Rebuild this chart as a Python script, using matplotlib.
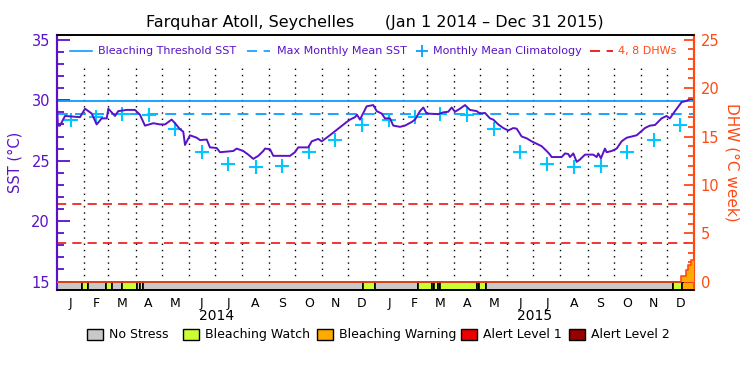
import matplotlib
matplotlib.use('Agg')
import matplotlib.pyplot as plt
from matplotlib.lines import Line2D
from matplotlib.patches import Rectangle
import numpy as np

# SST readings (day since Jan 1 2014, degC)
sst_days = [0, 1, 3.4, 9.2, 26.4, 32.1, 39.8, 45.5, 51.2, 57, 58.8, 66.5, 70.2, 79.9, 89.4, 95.1,
            100.8, 110.4, 118, 123.8, 131.4, 135.2, 141, 144.7, 146.7, 152.4, 160.1, 163.9, 171.6,
            175.3, 183, 186.8, 202, 205.9, 213.5, 219.2, 225, 230.7, 236.4, 238.4, 244.1, 247.9,
            267, 272.7, 276.5, 288, 291.9, 299.4, 303.3, 310.9, 332, 335.8, 341.5, 343.8, 347.2,
            354.9, 362.5, 366.4, 372.1, 375.9, 381.6, 385.4, 393.1, 398.8, 406.5, 410.3, 416,
            419.8, 423.7, 437, 442.7, 448.4, 452.3, 456.1, 461.8, 467.6, 473.3, 481, 484.8, 490.5,
            496.2, 500, 505.7, 511.5, 517.2, 522.9, 526.8, 532.5, 538.3, 544, 549.7, 555.4, 561.2,
            565, 566.9, 578.4, 582.2, 586, 587.9, 591.7, 595.6, 599.4, 605.1, 614.6, 618.5, 620.3,
            623.4, 628, 629.9, 635.7, 641.4, 647.1, 652.9, 658.6, 664.3, 673.8, 679.5, 685.3,
            692.9, 698.6, 702.4, 708.2, 715.9, 721.6, 725.4, 729.2, 730]
sst_vals = [29.5, 27.9, 27.9, 28.7, 28.6, 29.3, 28.9, 28.0, 28.5, 28.5, 29.3, 28.7, 29.1, 29.2, 29.2, 28.8,
            27.9, 28.1, 28.0, 28.0, 28.4, 28.1, 27.6, 27.4, 26.3, 27.1, 26.9, 26.7, 26.75,
            26.1, 26.05, 25.7, 25.8, 26.0, 25.8, 25.5, 25.15, 25.4, 25.8, 26.0, 25.95, 25.4,
            25.4, 25.7, 26.1, 26.1, 26.6, 26.8, 26.6, 27.0, 28.2, 28.4, 28.6, 28.8, 28.4,
            29.5, 29.6, 29.1, 28.9, 28.5, 28.5, 27.9, 27.8, 27.9, 28.2, 28.4, 29.1,
            29.4, 28.9, 28.85, 29.0, 29.05, 29.4, 29.05, 29.3, 29.6, 29.2, 29.1, 28.9, 28.95,
            28.5, 28.4, 28.0, 27.7, 27.5, 27.7, 27.65, 27.0, 26.85, 26.6, 26.4, 26.2, 25.8,
            25.5, 25.3, 25.3, 25.6, 25.55, 25.3, 25.6, 24.9, 25.1, 25.5, 25.5, 25.3, 25.6,
            25.2, 26.0, 25.7, 25.8, 26.0, 26.6, 26.9, 27.0, 27.1, 27.7, 27.9, 27.95,
            28.5, 28.7, 28.5, 29.1, 29.85, 29.95, 30.1, 30.1, 29.95]

# monthly mean climatology (Jan..Dec)
clim = [28.4, 28.65, 28.9, 28.8, 27.6, 25.75, 24.7, 24.45, 24.55, 25.7, 26.7, 27.97]
mmm = 28.9
threshold = 29.9
dhw_levels = [4, 8]

# degree heating weeks at the end of 2015
dhw_days = [0, 715, 720.5, 723.5, 726.2, 730]
dhw_vals = [0, 0.6, 1.2, 1.75, 2.2, 2.2]

# status bar segments: start day, end day, status
status_start = [0, 29, 36, 56.5, 63.4, 74.8, 92, 95, 98, 351, 364.5, 414, 429.4, 432, 437, 439.3,
                481.7, 484, 492, 706.3, 716]
status_end = status_start[1:] + [730]
status_code = [0, 1, 0, 1, 0, 1, 0, 1, 0, 1, 0, 1, 0, 1, 0, 1, 0, 1, 0, 1, 2]
status_names = ['No Stress', 'Bleaching Watch', 'Bleaching Warning', 'Alert Level 1', 'Alert Level 2']
status_colors = ['#c8c8c8', '#ccff33', '#ffaa00', '#ee0000', '#960000']

month_len = [31, 28, 31, 30, 31, 30, 31, 31, 30, 31, 30, 31] * 2
month_letters = ['J', 'F', 'M', 'A', 'M', 'J', 'J', 'A', 'S', 'O', 'N', 'D'] * 2

purple = '#5a12c8'
orange = '#ff4a14'
blue = '#0a9cff'
cyan = '#00c8ff'

fig = plt.figure(figsize=(7.5, 3.75), dpi=100)
ax = fig.add_axes([0.076, 0.2267, 0.8493, 0.68])
ax.set_xlim(0, 730)
ax.set_ylim(14.3, 35.4)

month_start = np.concatenate([[0], np.cumsum(month_len)])
month_mid = (month_start[:-1] + month_start[1:]) / 2.0

# dotted month lines
ax.vlines(month_start[1:-1], 15, 32.9, colors='black', linestyles=(0, (1, 3.5)), lw=1, zorder=1)

ax.axhline(threshold, color=blue, lw=1.3, zorder=2)
ax.axhline(mmm, color=blue, lw=1.3, ls=(0, (6, 4)), zorder=2)
for d in dhw_levels:
    ax.axhline(15 + d * 0.8, color='#ee0000', lw=1.1, ls=(0, (6, 4)), zorder=2)

ax.plot(sst_days, sst_vals, color=purple, lw=1.4, zorder=4)
ax.plot(month_mid, clim * 2, '+', color=cyan, ms=10, mew=1.5, zorder=3, ls='none')

# status bar
for s, e, c in zip(status_start, status_end, status_code):
    ax.barh(14.65, e - s, left=s, height=0.7, color=status_colors[c], edgecolor='black', lw=1.2, zorder=5)

# DHW on right axis
ax2 = ax.twinx()
ax2.set_ylim(-0.875, 25.5)
ax2.fill_between(dhw_days, 0, dhw_vals, step='post', color='#ffaa00', lw=0, zorder=3)
ax2.step(dhw_days, dhw_vals, where='post', color=orange, lw=1.2, zorder=4)

# axes styling
ax.set_yticks(np.arange(15, 36, 5))
ax.set_yticks(np.arange(15, 36, 1), minor=True)
ax.tick_params(axis='y', which='major', direction='in', length=9, width=1.3, colors=purple,
               labelsize=10.5, pad=5)
ax.tick_params(axis='y', which='minor', direction='in', length=5, width=1.3, colors=purple)
ax.set_xticks(month_mid)
ax.set_xticklabels(month_letters)
ax.tick_params(axis='x', length=0, labelsize=9, pad=5)
ax.set_ylabel('SST (°C)', color=purple, fontsize=10.5, labelpad=6)

ax2.set_yticks(np.arange(0, 26, 5))
ax2.set_yticks(np.arange(0, 26, 1), minor=True)
ax2.tick_params(axis='y', which='major', direction='in', length=7, width=1.3, colors=orange,
                labelsize=10.5, pad=5)
ax2.tick_params(axis='y', which='minor', direction='in', length=4, width=1.3, colors=orange)
ax2.set_ylabel('DHW (°C week)', color=orange, fontsize=11, rotation=-90, labelpad=14)

for a in (ax, ax2):
    a.spines['left'].set_color(purple)
    a.spines['left'].set_linewidth(1.5)
    a.spines['right'].set_color(orange)
    a.spines['right'].set_linewidth(1.5)
    a.spines['top'].set_linewidth(1.2)
    a.spines['bottom'].set_linewidth(1.2)

# year labels
ax.text(182.5, -0.103, '2014', transform=ax.get_xaxis_transform(), ha='center', va='center', fontsize=10)
ax.text(547.5, -0.103, '2015', transform=ax.get_xaxis_transform(), ha='center', va='center', fontsize=10)

fig.text(0.5, 0.94, 'Farquhar Atoll, Seychelles      (Jan 1 2014 – Dec 31 2015)',
         ha='center', va='center', fontsize=11.5)

# top legend
ly = 0.937
tr = ax.transAxes
ax.add_line(Line2D([0.0204, 0.0549], [ly, ly], color=blue, lw=1.2, transform=tr))
ax.text(0.0644, ly, 'Bleaching Threshold SST', color=purple, fontsize=8, va='center', transform=tr)
ax.add_line(Line2D([0.298, 0.334], [ly, ly], color=blue, lw=1.2, ls=(0, (6, 4)), transform=tr))
ax.text(0.345, ly, 'Max Monthly Mean SST', color=purple, fontsize=8, va='center', transform=tr)
ax.add_line(Line2D([0.573], [ly], color=blue, marker='+', ms=8, mew=1.3, ls='none', transform=tr))
ax.text(0.590, ly, 'Monthly Mean Climatology', color=purple, fontsize=8, va='center', transform=tr)
ax.add_line(Line2D([0.837, 0.873], [ly, ly], color='#ee0000', lw=1.2, ls=(0, (6, 4)), transform=tr))
ax.text(0.881, ly, '4, 8 DHWs', color=orange, fontsize=8, va='center', transform=tr)

# bottom legend
box_x = [0.116, 0.244, 0.423, 0.615, 0.759]
for bx, name, col in zip(box_x, status_names, status_colors):
    fig.patches.append(Rectangle((bx, 0.0933), 0.0213, 0.0294, facecolor=col, edgecolor='black',
                                 lw=1, transform=fig.transFigure, figure=fig))
    fig.text(bx + 0.029, 0.107, name, fontsize=9, va='center')

fig.savefig('out.png', dpi=100)
